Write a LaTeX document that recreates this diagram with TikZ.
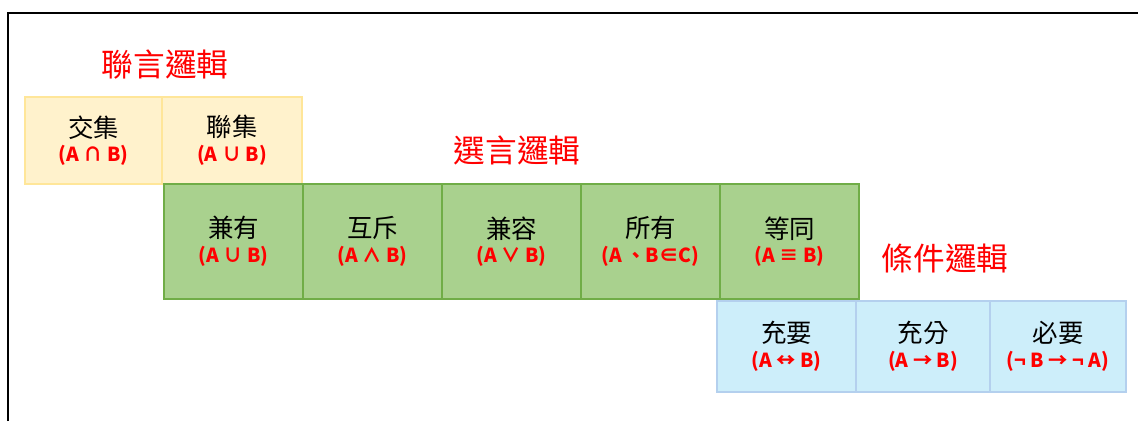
\documentclass[tikz,border=0pt]{standalone}
\usepackage{fontspec}
\newfontfamily\cjk{Noto Sans CJK TC}
\usetikzlibrary{positioning}
\definecolor{andfill}{HTML}{FFF2CC}
\definecolor{andline}{HTML}{FFE699}
\definecolor{orfill}{HTML}{A9D18E}
\definecolor{orline}{HTML}{70AD47}
\definecolor{iffill}{HTML}{CDEEFA}
\definecolor{ifline}{HTML}{B4D0EE}
\newcommand\cell[2]{{\fontsize{14.5}{16}\selectfont #1}\\[2pt]{\color{red}\bfseries\fontsize{11}{12}\selectfont #2}}
\tikzset{
  cellbox/.style={align=center, inner sep=0pt, outer sep=0pt, font=\cjk},
  andbox/.style={cellbox, draw=andline, fill=andfill, line width=0.6pt, minimum height=1.74cm},
  orbox/.style={cellbox, draw=orline, fill=orfill, line width=1.1pt, minimum height=2.30cm, minimum width=2.78cm},
  ifbox/.style={cellbox, draw=ifline, fill=iffill, line width=0.8pt, minimum height=1.82cm},
  heading/.style={text=red, font=\cjk\fontsize{18}{20}\selectfont}
}
\begin{document}
\begin{tikzpicture}
\useasboundingbox (0,0) rectangle (22.76,8.42);
% frame
\draw[line width=1.1pt] (0.16,0) -- (0.16,8.16) -- (22.76,8.16);
% headings
\node[heading] (andtitle) at (3.30,7.12) {聯言邏輯};
\node[heading] (ortitle) at (10.34,5.42) {選言邏輯};
\node[heading] (iftitle) at (18.90,3.26) {條件邏輯};
% row 1
\node[andbox, minimum width=2.74cm] (jiao) at (1.87,5.61) {\cell{交集}{(A ∩ B)}};
\node[andbox, minimum width=2.80cm, right=0pt of jiao] (lian) {\cell{聯集}{(A ∪ B)}};
% row 2
\node[orbox] (jian) at (4.67,3.59) {\cell{兼有}{(A ∪ B)}};
\node[orbox, right=0pt of jian] (huchi) {\cell{互斥}{(A ∧ B)}};
\node[orbox, right=0pt of huchi] (jianrong) {\cell{兼容}{(A ∨ B)}};
\node[orbox, right=0pt of jianrong] (suoyou) {\cell{所有}{(A 、B∈C)}};
\node[orbox, right=0pt of suoyou] (dengtong) {\cell{等同}{(A ≡ B)}};
% row 3
\node[ifbox, minimum width=2.78cm] (chongyao) at (15.73,1.49) {\cell{充要}{(A ↔ B)}};
\node[ifbox, minimum width=2.68cm, right=0pt of chongyao] (chongfen) {\cell{充分}{(A → B)}};
\node[ifbox, minimum width=2.72cm, right=0pt of chongfen] (biyao) {\cell{必要}{(¬ B → ¬ A)}};
\end{tikzpicture}
\end{document}
